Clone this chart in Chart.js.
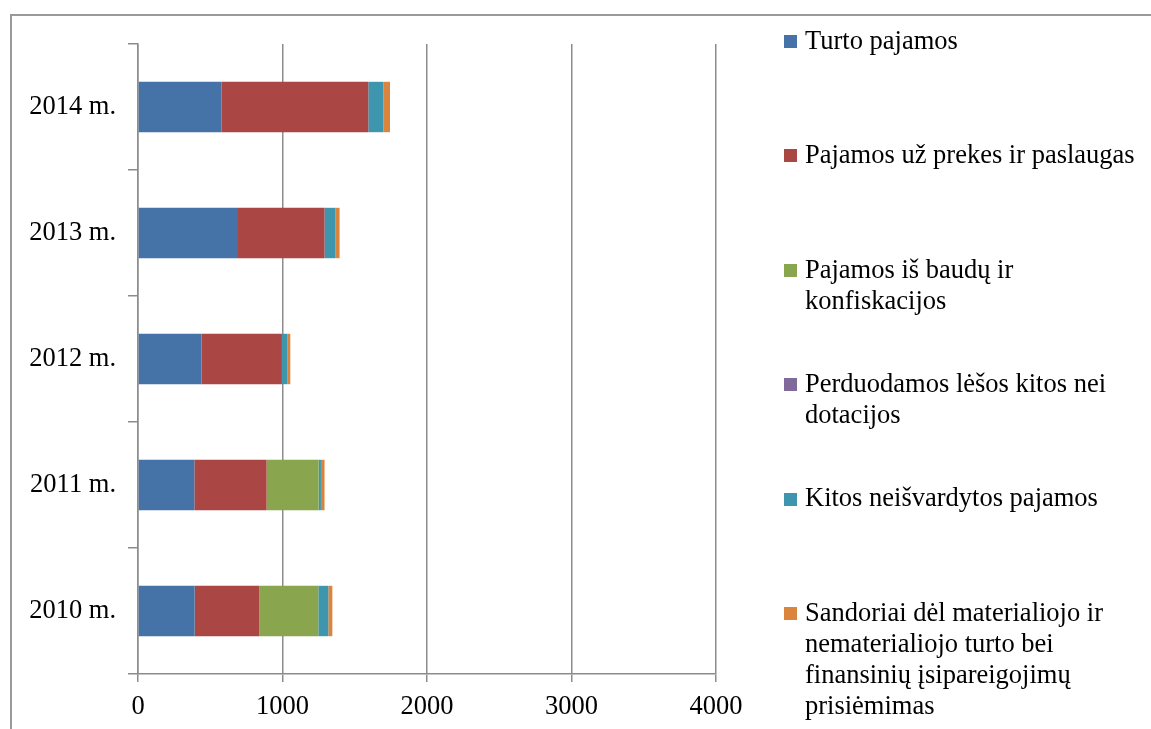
<!DOCTYPE html>
<html lang="lt">
<head>
<meta charset="utf-8">
<title>Pajamos 2010–2014 m.</title>
<script src="https://cdn.jsdelivr.net/npm/chart.js@4.4.1/dist/chart.umd.min.js"></script>
<style>
  html, body { margin: 0; padding: 0; background: #fff; overflow: hidden; }
  #wrap { position: relative; width: 1151px; height: 729px; }
  #frame {
    position: absolute; left: 10px; top: 14px; width: 1300px; height: 900px;
    border-left: 2px solid #9a9a9a; border-top: 2px solid #9a9a9a;
    box-sizing: border-box; pointer-events: none;
  }
  #chartBox { position: absolute; left: 0; top: 0; width: 1151px; height: 729px; }
  #legend {
    position: absolute; left: 784px; top: 0; width: 370px; height: 729px;
    font-family: "Liberation Serif", "Times New Roman", serif; font-size: 26.5px;
    line-height: 31px; color: #000;
  }
  .item { position: absolute; left: 0; width: 370px; }
  .swatch { position: absolute; left: 0; width: 13px; height: 13px; }
  .txt { position: absolute; left: 21px; width: 342px; }
</style>
</head>
<body>
<div id="wrap">
  <div id="frame"></div>
  <div id="chartBox"><canvas id="c"></canvas></div>
  <div id="legend"></div>
</div>
<script>
// Years shown on the category axis
const years = ['2010 m.', '2011 m.', '2012 m.', '2013 m.', '2014 m.'];

// Income categories
const seriesNames = [
  'Turto pajamos',
  'Pajamos už prekes ir paslaugas',
  'Pajamos iš baudų ir konfiskacijos',
  'Perduodamos lėšos kitos nei dotacijos',
  'Kitos neišvardytos pajamos',
  'Sandoriai dėl materialiojo ir nematerialiojo turto bei finansinių įsipareigojimų prisiėmimas'
];

// Values per year (2010 … 2014)
const turtoPajamos     = [392, 390, 440, 692, 579];
const prekesPaslaugos  = [447, 500, 556, 599, 1015];
const baudosKonfiskac  = [409, 360, 0, 0, 0];
const perduodamosLesos = [0, 0, 0, 0, 0];
const kitosPajamos     = [69, 16, 39, 74, 104];
const sandoriai        = [28, 25, 19, 30, 46];

// Value axis ticks
const xTicks = [0, 1000, 2000, 3000, 4000];

const colors = ['#4572A7', '#AA4643', '#89A54E', '#80699B', '#3D96AE', '#DB843D'];
const values = [turtoPajamos, prekesPaslaugos, baudosKonfiskac, perduodamosLesos, kitosPajamos, sandoriai];

const serif = '"Liberation Serif", "Times New Roman", serif';
const axisGray = '#8c8c8c';

const chart = new Chart(document.getElementById('c'), {
  type: 'bar',
  data: {
    labels: years,
    datasets: seriesNames.map((name, i) => ({
      label: name,
      data: values[i],
      backgroundColor: colors[i],
      borderWidth: 0,
      barPercentage: 0.4,
      categoryPercentage: 1.0
    }))
  },
  options: {
    indexAxis: 'y',
    responsive: true,
    maintainAspectRatio: false,
    animation: false,
    layout: { padding: { left: 0, top: 44, right: 435, bottom: 0 } },
    plugins: { legend: { display: false }, tooltip: { enabled: false } },
    scales: {
      x: {
        stacked: true,
        min: xTicks[0],
        max: xTicks[xTicks.length - 1],
        afterBuildTicks: (scale) => { scale.ticks = xTicks.map(v => ({ value: v })); },
        afterFit: (scale) => { scale.height = 55; },
        grid: { color: axisGray, lineWidth: 1.5, tickLength: 8, drawTicks: true },
        border: { display: true, color: axisGray, width: 1.5 },
        ticks: {
          color: '#000',
          padding: 9,
          font: { family: serif, size: 26.5 },
          maxRotation: 0,
          callback: (v) => String(v)
        }
      },
      y: {
        stacked: true,
        reverse: true,
        afterFit: (scale) => { scale.width = 138; },
        grid: { offset: true, drawOnChartArea: false, drawTicks: true, tickLength: 10, color: axisGray, lineWidth: 1.5 },
        border: { display: true, color: axisGray, width: 1.5 },
        ticks: {
          color: '#000',
          padding: 12,
          font: { family: serif, size: 26.5 }
        }
      }
    }
  }
});

// Legend on the right, one slot per series, built from the chart's datasets
const legend = document.getElementById('legend');
const firstBaseline = 49;
const slot = 114.4;
const baselineInLine = 24.3;
chart.data.datasets.forEach((ds, i) => {
  const item = document.createElement('div');
  item.className = 'item';
  const base = firstBaseline + i * slot;
  item.style.top = (base - baselineInLine) + 'px';
  const sw = document.createElement('div');
  sw.className = 'swatch';
  sw.style.background = ds.backgroundColor;
  sw.style.top = (baselineInLine - 14) + 'px';
  const tx = document.createElement('div');
  tx.className = 'txt';
  tx.textContent = ds.label;
  item.appendChild(sw);
  item.appendChild(tx);
  legend.appendChild(item);
});
</script>
</body>
</html>
